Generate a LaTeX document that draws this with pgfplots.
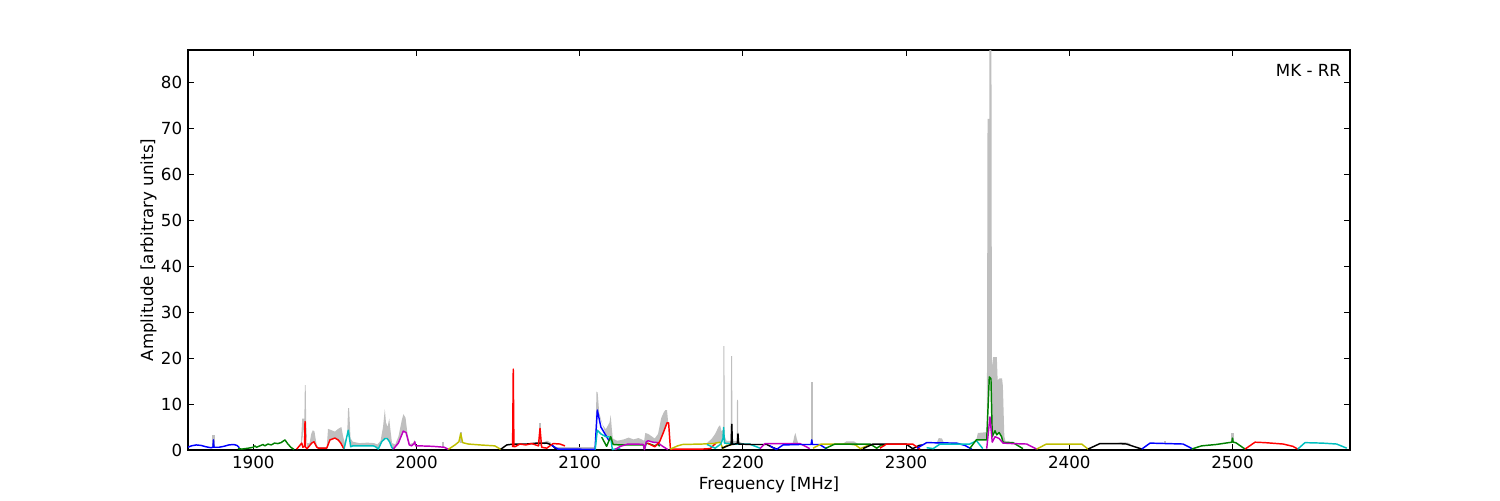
\documentclass[border=0pt]{standalone}
\usepackage{fontspec}
\setmainfont{DejaVu Sans}
\usepackage{pgfplots}
\pgfplotsset{compat=1.18}
\definecolor{mb}{rgb}{0,0,1}
\definecolor{mg}{rgb}{0,0.5,0}
\definecolor{mr}{rgb}{1,0,0}
\definecolor{mc}{rgb}{0,0.75,0.75}
\definecolor{mm}{rgb}{0.75,0,0.75}
\definecolor{my}{rgb}{0.75,0.75,0}
\definecolor{mk}{rgb}{0,0,0}
\definecolor{mgray}{rgb}{0.75,0.75,0.75}
\begin{document}
\fontsize{12pt}{14pt}\selectfont
\begin{tikzpicture}
\useasboundingbox (0,0) rectangle (1080pt,360pt);
\begin{axis}[
  at={(135.36pt,36pt)}, anchor=south west,
  scale only axis, width=836.64pt, height=288pt,
  xmin=1860, xmax=2572, ymin=0, ymax=87,
  xtick={1900,2000,2100,2200,2300,2400,2500},
  ytick={0,10,20,30,40,50,60,70,80},
  tick align=inside, major tick length=4pt,
  tick style={black, line width=0.6pt},
  axis line style={black, line width=0.8pt},
  /pgf/number format/assume math mode=true,
  /pgf/number format/1000 sep={},
  tick label style={font=\fontsize{12pt}{14pt}\selectfont},
  label style={font=\fontsize{12pt}{14pt}\selectfont},
  xlabel={Frequency [MHz]}, ylabel={Amplitude [arbitrary units]},
  xlabel style={yshift=2pt},
  ylabel style={yshift=-5pt},
  every axis plot/.append style={line width=1.05pt, line join=round, no markers},
  clip=true,
]
% ---------------- gray envelope ----------------
\addplot[mgray, line width=1.5pt] coordinates {(1875.6,0.6)(1875.6,3.3)};
\addplot[fill=mgray, draw=none] coordinates {
(1929,0.5)(1930,6.8)(1931.3,6.8)(1931.6,14.1)(1932.1,14.1)(1932.4,6.5)(1933,1.5)(1934.5,1.5)(1935.5,3.5)(1936.5,4.3)(1937.5,4.0)(1938.8,1.2)(1939.8,0.6)(1945,0.6)(1945.8,4.6)(1948,4.3)(1950,4.0)(1952,4.6)(1954,5.0)(1955,3.0)(1956.5,1.0)(1957.5,3.0)(1958.1,9.1)(1958.7,9.1)(1959.6,2.5)(1961,1.8)(1965,1.5)(1970,1.6)(1974,1.5)(1976,1.2)(1978,2.0)(1979.5,5.0)(1980.6,8.9)(1981.3,6.0)(1982.3,5.0)(1983.3,6.8)(1984,4.5)(1985,1.5)(1987,1.2)(1989,3.0)(1991,6.5)(1992,7.8)(1993.3,7.0)(1994.5,3.5)(1996,1.3)(1998.2,1.6)(1998.6,2.2)(1999.3,1.5)(2000,0.9)
(2000,0.8)(1998.5,1.4)(1996,1.0)(1993.6,3.8)(1991.9,4.1)(1988.9,1.5)(1985.8,0.2)(1984.8,0.6)(1982,2.5)(1980.7,2.5)(1978.7,1.8)(1976.6,0.2)(1973.5,0.9)(1961,0.9)(1959.7,0.7)(1958.2,4.3)(1955.6,0.2)(1953.6,1.5)(1950,2.6)(1947,2.2)(1945,0.4)(1939.9,0.4)(1938.9,0.6)(1937.2,1.8)(1935.8,1.5)(1933,0.3)(1931.7,6.2)(1929.7,1.5)(1929,0.5)};
\addplot[mgray, line width=1.5pt] coordinates {(2016,0.7)(2016,1.7)};
\addplot[mgray, line width=1.5pt] coordinates {(2027.1,1.5)(2027.1,3.9)};
\addplot[mgray, line width=1.5pt] coordinates {(2075.7,0.8)(2075.7,5.8)};
\addplot[mgray, line width=1.5pt] coordinates {(2078,1.4)(2080,1.8)(2082,1.4)};
\addplot[mgray, line width=2pt] coordinates {(2086,0.3)(2109,0.3)};
\addplot[fill=mgray, draw=none] coordinates {
(2109.5,0.2)(2110.3,12.7)(2111,12.5)(2112,8)(2114,5.5)(2116,4.5)(2118.3,6)(2119,7.6)(2119.6,5.0)(2120.3,2.5)(2123,2.0)(2127,2.3)(2130,2.7)(2133,2.3)(2136,2.6)(2138,2.3)(2139.5,2.0)(2140.2,3.7)(2142,3.5)(2144,3.0)(2146,2.5)(2148,3.5)(2150,7.0)(2151.5,8.2)(2152.5,8.7)(2153.5,8.7)(2154.5,5)(2155.6,0.3)
(2155.6,0.3)(2154.5,5.9)(2153.5,5.9)(2151.5,4.0)(2149,1.8)(2146,1.7)(2142,2.0)(2140.8,1.8)(2139.7,0.2)(2139,1.2)(2130,1.3)(2125,1.1)(2120.5,1.2)(2119,2.9)(2116.5,2.9)(2110.8,8.7)(2109.5,0.2)};
\addplot[fill=mgray, draw=none] coordinates {
(2178,1.5)(2181,2.5)(2183,3.5)(2185,5.0)(2186,5.4)(2187,4.0)(2188,4.5)(2188.1,22.6)(2188.7,22.6)(2188.8,3.0)(2190,2.0)(2192.5,2.0)(2192.8,20.4)(2193.4,20.4)(2193.6,2.0)(2196.2,2.0)(2196.4,10.9)(2197,10.9)(2197.2,2.0)(2199,1.6)(2201,1.3)
(2201,1.3)(2197.4,1.3)(2197,3.5)(2196.6,1.4)(2193.6,1.2)(2193.2,5.6)(2192.8,1.2)(2188.7,1.5)(2188.2,4.9)(2187.8,2.5)(2186.5,1.7)(2182,1.4)(2178,1.3)};
\addplot[fill=mgray, draw=none] coordinates {(2230.5,1.3)(2231.5,3.0)(2232.2,3.7)(2233,2.5)(2234,1.3)};
\addplot[mgray, line width=1.5pt] coordinates {(2242.2,1.2)(2242.2,14.8)};
\addplot[fill=mgray, draw=none] coordinates {(2261,1.3)(2263.5,1.9)(2268,1.9)(2271,1.2)};
\addplot[fill=mgray, draw=none] coordinates {(2318.5,1.3)(2320,2.6)(2322,2.5)(2323.5,1.3)};
\addplot[fill=mgray, draw=none] coordinates {
(2343,2.2)(2344,3.7)(2347,3.8)(2349.5,3.9)(2349.9,72)(2351.0,72)(2351.1,87)(2352.3,87)(2352.6,18)(2353.3,20.2)(2355.6,20.2)(2356.1,15.2)(2357.3,15.6)(2358.8,15.6)(2359.3,14)(2360.2,3)(2361,1.7)
(2361,1.6)(2359.4,1.7)(2358.5,2.9)(2357,3.8)(2355.5,3.3)(2354.5,4.2)(2352.8,2.9)(2352,15.5)(2351,15.9)(2349.4,2.2)(2343,2.2)};
\addplot[fill=mgray, draw=none] coordinates {(2428,1.4)(2432,1.7)(2436,1.6)(2438,1.2)};
\addplot[mgray, line width=1.5pt] coordinates {(2458.6,1.3)(2458.6,1.9)};
\addplot[mgray, line width=1.5pt] coordinates {(2500,1.7)(2500,3.6)};
% ---------------- coloured segments ----------------
\addplot[mb] coordinates {(1860,0.6)(1862,0.9)(1865,1.1)(1868,1.0)(1871,0.7)(1874,0.5)(1875.3,0.6)(1875.6,2.2)(1875.9,0.6)(1879,0.6)(1882,0.8)(1885,1.1)(1888,1.2)(1890,1.0)(1891.5,0.5)};
\addplot[mg] coordinates {(1890.6,0.3)(1893,0.2)(1897,0.4)(1900,0.6)(1901,0.9)(1902,0.6)(1904,0.9)(1906,1.2)(1907,0.9)(1909,1.3)(1911,1.1)(1913,1.5)(1915,1.4)(1917,1.6)(1919.4,2.2)(1921,1.4)(1923,0.6)(1925,0.1)};
\addplot[mr] coordinates {(1926.6,0.2)(1929.7,1.5)(1930.4,0.6)(1931.4,0.8)(1931.7,6.2)(1932.0,0.6)(1933,0.3)(1935.8,1.5)(1937.2,1.8)(1938.9,0.6)(1939.9,0.4)(1945,0.4)(1947,2.2)(1950,2.6)(1952,2.2)(1953.6,1.5)(1955.6,0.2)};
\addplot[mc] coordinates {(1955.6,0.2)(1958.2,4.3)(1959.7,0.7)(1961,0.9)(1973.5,0.9)(1975,0.7)(1976.6,0.2)(1978.7,1.8)(1980.7,2.5)(1982,2.5)(1983.5,1.8)(1984.8,0.6)(1985.8,0.2)};
\addplot[mm] coordinates {(1985.8,0.2)(1988.9,1.5)(1991.9,4.1)(1993.6,3.8)(1995.6,1.1)(1997,0.9)(1998.5,1.4)(1999,1.8)(1999.5,0.9)(2002,0.9)(2010,0.8)(2017,0.6)(2019.5,0.15)};
\addplot[my] coordinates {(2019.5,0.15)(2023.6,1.1)(2026,1.8)(2027.1,3.6)(2028.3,1.6)(2031.8,1.3)(2039,1.1)(2048,0.9)(2051.6,0.15)};
\addplot[mk] coordinates {(2051.6,0.15)(2055.3,1.1)(2059.3,1.3)(2067.5,1.3)(2073.7,1.5)(2079.8,1.5)(2082.9,1.1)(2084.9,0.4)(2086.5,0.15)};
\addplot[mr] coordinates {(2058.9,0.6)(2059.3,17.6)(2059.7,0.8)(2060.2,0.7)(2063.4,1.3)(2067,1.1)(2070.6,1.4)(2074.7,0.9)(2075.7,4.7)(2076.7,0.6)(2079.8,0.4)(2083.8,1.4)(2087.9,1.3)(2091,0.9)};
\addplot[mb] coordinates {(2082.9,1.0)(2086.7,0.2)(2109.4,0.15)(2110.8,8.7)(2113,5.0)(2116.5,2.9)(2118,2.0)};
\addplot[mc] coordinates {(2109.5,0.1)(2110.8,4.3)(2113,3.5)(2116,2.9)(2119,2.8)(2120,0.1)(2123,0.3)(2125,0.3)};
\addplot[mg] coordinates {(2113.5,2.8)(2116.5,0.8)(2119,2.9)(2120.5,1.2)(2125,1.1)(2135,1.1)(2139,1.1)(2139.7,0.2)(2140.8,1.5)(2143,1.3)(2146,0.9)(2148,1.3)(2149,0.8)};
\addplot[mm] coordinates {(2121.6,0.1)(2125,0.8)(2129.6,1.3)(2135,1.3)(2139,1.2)(2139.7,0.1)(2140.8,1.8)(2142,2.0)(2145,1.7)(2148,1.6)(2150,1.0)(2154,0.1)};
\addplot[mr] coordinates {(2141.6,1.5)(2146,0.7)(2149,1.8)(2151.5,4.0)(2153.5,5.9)(2154.5,5.9)(2155.6,0.2)(2165,0.2)(2175,0.2)(2180,0.3)(2182,1.0)(2183.5,1.5)};
\addplot[my] coordinates {(2155.6,0.2)(2160,0.9)(2163,1.2)(2175,1.3)(2182,1.4)(2186,1.7)(2187.8,0.3)(2190,1.0)(2193,1.1)};
\addplot[mc] coordinates {(2178,1.2)(2183,0.4)(2186.5,1.3)(2187.8,2.5)(2188.2,4.9)(2188.7,1.5)(2195,1.3)(2204,1.3)(2210.5,0.4)};
\addplot[mk] coordinates {(2187,0.4)(2190,0.8)(2192.8,1.2)(2193.2,5.6)(2193.6,1.2)(2196.6,1.4)(2197,3.5)(2197.4,1.3)(2205,1.2)(2214.7,1.2)(2218.5,0.5)(2221,0.2)};
\addplot[mm] coordinates {(2210.5,0.3)(2213.6,1.4)(2235,1.4)(2241,0.3)};
\addplot[mb] coordinates {(2216.6,0.9)(2220.5,0.1)(2224.6,1.1)(2235,1.2)(2241.8,1.2)(2242.2,2.2)(2242.6,1.2)(2247,1.2)(2251.5,0.2)};
\addplot[my] coordinates {(2243,0.4)(2248,1.3)(2257.5,1.3)(2265,1.3)(2269,1.1)(2272,0.3)(2276,0.9)(2279,1.1)};
\addplot[mg] coordinates {(2250.3,0.3)(2256.4,1.3)(2270,1.3)(2278,1.3)(2282,0.4)(2285,1.1)(2287,1.0)};
\addplot[mk] coordinates {(2273.6,0.3)(2279.7,1.3)(2287,1.3)(2300,1.3)(2304,0.3)(2308,1.0)(2310,1.1)};
\addplot[mr] coordinates {(2284,0.4)(2288,1.3)(2304,1.3)(2308.5,0.2)};
\addplot[mb] coordinates {(2306.7,0.4)(2312.6,1.6)(2331,1.5)(2336,1.0)(2340.2,0.2)};
\addplot[mc] coordinates {(2312.6,0.5)(2316.6,0.3)(2320.8,1.3)(2339,1.3)(2343.2,2.0)(2347,0.3)};
\addplot[mg] coordinates {(2339,0.3)(2343,2.2)(2349.4,2.2)(2351,15.9)(2352,15.5)(2352.8,2.9)(2354.5,4.2)(2355.5,3.3)(2357,3.8)(2358.5,2.9)(2359.4,1.7)(2365.5,1.6)(2371.6,0.3)};
\addplot[mm] coordinates {(2349.4,0.3)(2351.4,7.2)(2352.8,1.7)(2354.5,2.9)(2357,2.5)(2359.4,1.5)(2365,1.4)(2373.9,1.3)(2380,0.2)};
\addplot[my] coordinates {(2380,0.2)(2386,1.3)(2407.6,1.3)(2411.5,0.2)};
\addplot[mk] coordinates {(2411.5,0.2)(2418.8,1.4)(2430,1.4)(2435,1.3)(2444.4,0.2)};
\addplot[mb] coordinates {(2444.4,0.2)(2449.5,1.5)(2469.7,1.3)(2475.8,0.2)};
\addplot[mg] coordinates {(2475,0.2)(2481,0.9)(2490,1.2)(2499.6,1.7)(2500,2.6)(2500.4,1.7)(2502,1.6)(2507.7,0.2)};
\addplot[mr] coordinates {(2507.7,0.2)(2513.8,1.7)(2520,1.6)(2531,1.3)(2537,0.8)(2540,0.2)};
\addplot[mc] coordinates {(2540,0.2)(2544.4,1.6)(2555,1.5)(2563.8,1.3)(2570,0.4)};
\node[anchor=north east, inner sep=0pt, font=\fontsize{12pt}{14pt}\selectfont] at (rel axis cs:0.9925,0.965) {MK - RR};
\end{axis}
\end{tikzpicture}
\end{document}
